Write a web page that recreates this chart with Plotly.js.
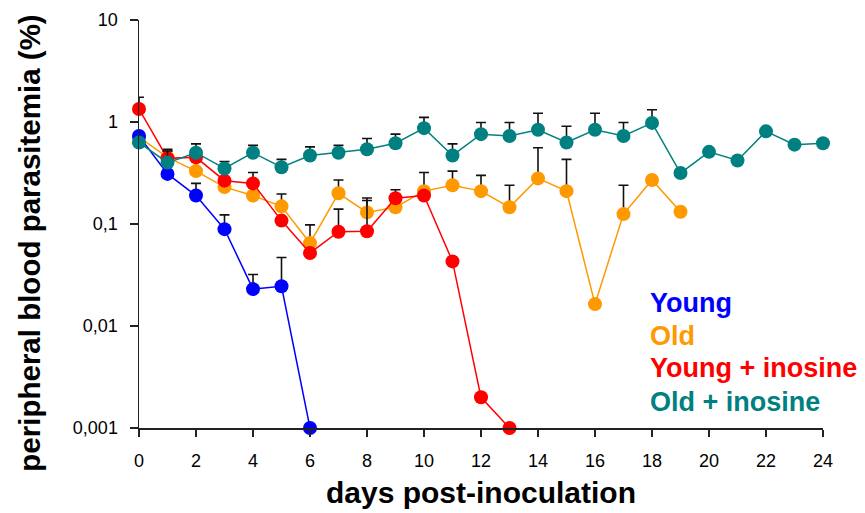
<!DOCTYPE html>
<html>
<head>
<meta charset="utf-8">
<script src="https://cdn.plot.ly/plotly-3.0.1.min.js"></script>
<style>html,body{margin:0;padding:0;background:#fff;}#chart{width:865px;height:513px;}</style>
</head>
<body>
<div id="chart"></div>
<script>
// Days
const daysYoung = [0,1,2,3,4,5,6];
const daysOld = [0,1,2,3,4,5,6,7,8,9,10,11,12,13,14,15,16,17,18,19];
const daysYoungIno = [0,1,2,3,4,5,6,7,8,9,10,11,12,13];
const daysOldIno = [0,1,2,3,4,5,6,7,8,9,10,11,12,13,14,15,16,17,18,19,20,21,22,23,24];

// Mean parasitemia (%)
const young = [0.73,0.31,0.19,0.089,0.023,0.0245,0.001];
const old = [0.71,0.45,0.33,0.23,0.19,0.149,0.065,0.20,0.13,0.146,0.21,0.24,0.21,0.146,0.28,0.21,0.0164,0.125,0.27,0.132];
const youngIno = [1.34,0.44,0.45,0.266,0.25,0.108,0.052,0.084,0.085,0.179,0.19,0.043,0.002,0.001];
const oldIno = [0.63,0.40,0.50,0.35,0.50,0.36,0.47,0.50,0.54,0.62,0.87,0.47,0.76,0.73,0.84,0.63,0.84,0.73,0.98,0.316,0.51,0.42,0.81,0.60,0.62];

// Upper error (SD)
const youngSD = [0,0,0.06,0.034,0.009,0.0225,0];
const oldSD = [0,0.07,0,0,0,0.048,0.033,0.07,0.04,0,0.11,0.09,0.09,0.094,0.28,0.22,0,0.115,0,0];
const youngInoSD = [0.41,0.1,0,0,0.07,0,0,0.056,0.095,0.038,0,0,0,0];
const oldInoSD = [0,0.12,0.11,0.06,0.09,0.07,0.10,0.09,0.15,0.14,0.24,0.14,0.23,0.26,0.38,0.28,0.38,0.26,0.34,0,0,0,0,0,0];

const seriesNames = ["Young","Old","Young + inosine","Old + inosine"];
const colors = ["#0000FF","#FF9900","#FF0000","#008080"];

const yTickVals = [0.001,0.01,0.1,1,10];
const yTickText = ["0,001","0,01","0,1","1","10"];
const xTickVals = [0,2,4,6,8,10,12,14,16,18,20,22,24];

const FONT = "Arial, 'Liberation Sans', sans-serif";

function mk(x, y, sd, i) {
  return {
    x: x, y: y, type: "scatter", mode: "lines+markers", name: seriesNames[i],
    line: {color: colors[i], width: 1.5},
    marker: {color: colors[i], size: 14},
    cliponaxis: false,
    error_y: {type: "data", symmetric: false, array: sd, arrayminus: sd.map(() => 0),
              color: "#111", thickness: 1.6, width: 5},
    showlegend: false
  };
}

// draw order: orange, blue, red, teal (teal on top)
const data = [
  mk(daysOld, old, oldSD, 1),
  mk(daysYoung, young, youngSD, 0),
  mk(daysYoungIno, youngIno, youngInoSD, 2),
  mk(daysOldIno, oldIno, oldInoSD, 3)
];

const legendY = [0.306, 0.225, 0.147, 0.064];
const annotations = seriesNames.map((n, i) => ({
  text: "<b>" + n + "</b>", xref: "paper", yref: "paper", x: 0.744, y: legendY[i],
  xanchor: "left", yanchor: "middle", showarrow: false,
  font: {family: FONT, size: 27, color: colors[i]}
}));
// y-axis title as rotated annotation (positioned as in reference)
annotations.push({
  text: "<b>peripheral blood parasitemia (%)</b>", xref: "paper", yref: "paper",
  x: -0.1595, y: 0.454, xanchor: "center", yanchor: "middle", textangle: -90, showarrow: false,
  font: {family: FONT, size: 29.5, color: "#000"}
});

const layout = {
  width: 865, height: 513,
  margin: {l: 139, r: 42, t: 20, b: 85},
  paper_bgcolor: "#fff", plot_bgcolor: "#fff",
  font: {family: FONT, color: "#000"},
  xaxis: {
    range: [0, 24], tickvals: xTickVals, ticks: "outside", ticklen: 7, tickwidth: 1.5, tickcolor: "#222",
    showline: true, linecolor: "#222", linewidth: 1.5, showgrid: false, zeroline: false,
    ticklabelstandoff: 9,
    tickfont: {family: FONT, size: 18, color: "#000"},
    title: {text: "<b>days post-inoculation</b>", font: {family: FONT, size: 30, color: "#000"}, standoff: 12}
  },
  yaxis: {
    type: "log", range: [-3, 1], tickvals: yTickVals, ticktext: yTickText,
    ticks: "outside", ticklen: 8, tickwidth: 1.5, tickcolor: "#222",
    showline: true, linecolor: "#222", linewidth: 1.5, showgrid: false, zeroline: false,
    ticklabelstandoff: 8,
    tickfont: {family: FONT, size: 18, color: "#000"}
  },
  annotations: annotations
};

Plotly.newPlot("chart", data, layout, {staticPlot: true, displayModeBar: false});
</script>
</body>
</html>
